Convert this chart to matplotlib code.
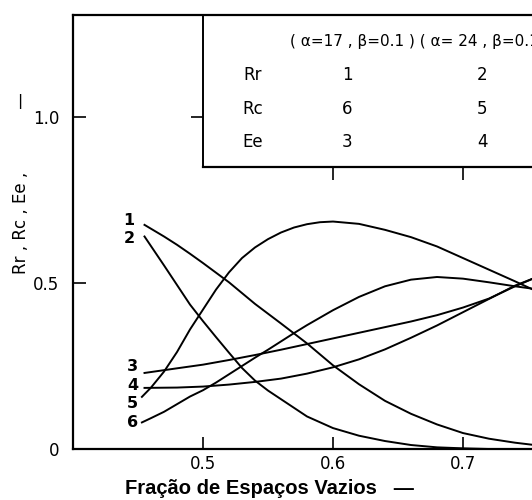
import matplotlib
matplotlib.use("Agg")
import matplotlib.pyplot as plt

plt.rcParams['font.family'] = ['DejaVu Sans']

# ---- data ----
x1 = [0.455, 0.47, 0.48, 0.49, 0.50, 0.52, 0.54, 0.56, 0.58, 0.60, 0.62, 0.64, 0.66, 0.68, 0.70, 0.72, 0.74, 0.755]
rr17 = [0.675, 0.64, 0.615, 0.588, 0.560, 0.502, 0.437, 0.378, 0.318, 0.252, 0.195, 0.145, 0.106, 0.074, 0.048, 0.031, 0.019, 0.012]

x2 = [0.455, 0.47, 0.48, 0.49, 0.50, 0.51, 0.52, 0.53, 0.54, 0.55, 0.56, 0.58, 0.60, 0.62, 0.64, 0.66, 0.68, 0.70, 0.72, 0.755]
rr24 = [0.640, 0.553, 0.494, 0.435, 0.385, 0.337, 0.290, 0.244, 0.206, 0.176, 0.150, 0.098, 0.063, 0.040, 0.024, 0.012, 0.005, 0.002, 0.0, 0.0]

x3 = [0.455, 0.48, 0.50, 0.52, 0.54, 0.56, 0.58, 0.60, 0.62, 0.64, 0.66, 0.68, 0.70, 0.72, 0.74, 0.755]
ee17 = [0.229, 0.243, 0.254, 0.268, 0.283, 0.299, 0.316, 0.333, 0.350, 0.367, 0.384, 0.403, 0.426, 0.453, 0.490, 0.515]

x4 = [0.455, 0.48, 0.50, 0.52, 0.54, 0.56, 0.58, 0.60, 0.62, 0.64, 0.66, 0.68, 0.70, 0.72, 0.74, 0.755]
ee24 = [0.184, 0.185, 0.188, 0.194, 0.202, 0.212, 0.227, 0.246, 0.270, 0.300, 0.335, 0.372, 0.412, 0.452, 0.492, 0.515]

x5 = [0.453, 0.46, 0.47, 0.48, 0.49, 0.50, 0.51, 0.52, 0.53, 0.54, 0.55, 0.56, 0.57, 0.58, 0.59, 0.60, 0.62, 0.64, 0.66, 0.68, 0.70, 0.72, 0.74, 0.755]
rc24 = [0.157, 0.185, 0.233, 0.292, 0.360, 0.420, 0.480, 0.532, 0.575, 0.607, 0.632, 0.652, 0.667, 0.677, 0.683, 0.685, 0.678, 0.660, 0.638, 0.610, 0.575, 0.540, 0.505, 0.478]

x6 = [0.453, 0.46, 0.47, 0.48, 0.49, 0.50, 0.51, 0.52, 0.53, 0.54, 0.55, 0.56, 0.57, 0.58, 0.60, 0.62, 0.64, 0.66, 0.68, 0.70, 0.72, 0.74, 0.755]
rc17 = [0.080, 0.093, 0.112, 0.135, 0.158, 0.177, 0.200, 0.225, 0.250, 0.275, 0.299, 0.324, 0.349, 0.373, 0.418, 0.458, 0.490, 0.510, 0.518, 0.513, 0.502, 0.490, 0.482]

curve_labels = ['1', '2', '3', '4', '5', '6']
label_x = [0.443, 0.443, 0.446, 0.446, 0.446, 0.446]
label_y = [0.687, 0.635, 0.248, 0.190, 0.137, 0.081]

x_ticks = [0.5, 0.6, 0.7]
x_ticklabels = ['0.5', '0.6', '0.7']
y_ticks = [0, 0.5, 1.0]
y_ticklabels = ['0', '0.5', '1.0']

table_header = '( \u03b1=17 , \u03b2=0.1 ) ( \u03b1= 24 , \u03b2=0.1 )'
table_rows = ['Rr', 'Rc', 'Ee']
table_col1 = ['1', '6', '3']
table_col2 = ['2', '5', '4']

# ---- figure ----
fig = plt.figure(figsize=(5.32, 5.0), dpi=100)
ax = fig.add_axes([73/532, 51/500, 468/532, 434/500])
ax.set_xlim(0.4, 0.76)
ax.set_ylim(0, 1.307)

lw = 1.4
for xs, ys in [(x1, rr17), (x2, rr24), (x3, ee17), (x4, ee24), (x5, rc24), (x6, rc17)]:
    ax.plot(xs, ys, color='black', lw=lw)

for t, lx, ly in zip(curve_labels, label_x, label_y):
    ax.text(lx, ly, t, ha='center', va='center', fontsize=11.5, fontweight='bold')

for s in ['left', 'bottom', 'top']:
    ax.spines[s].set_linewidth(1.6)
ax.spines['right'].set_visible(False)

ax.set_xticks(x_ticks)
ax.set_xticklabels(x_ticklabels, fontsize=12)
ax.set_yticks(y_ticks)
ax.set_yticklabels(y_ticklabels, fontsize=12)
ax.tick_params(direction='in', length=9, width=1.2, pad=10)
ax.tick_params(axis='x', pad=4)

ax.set_xlabel('Fra\u00e7\u00e3o de Espa\u00e7os Vazios   \u2014', fontsize=14.5, fontweight='bold',
              family='Liberation Sans')
ax.xaxis.set_label_coords(0.42, -0.07)
ax.set_ylabel('Rr , Rc , Ee ,            \u2014', fontsize=12)
ax.yaxis.set_label_coords(-0.092, 0.612)

# table box as inset axes in data coordinates
tab = ax.inset_axes([0.5, 0.85, 0.26, 0.457], transform=ax.transData)
tab.set_xlim(0.5, 0.76)
tab.set_ylim(0.85, 1.307)
tab.patch.set_alpha(0)
tab.spines['top'].set_visible(False)
tab.spines['right'].set_visible(False)
tab.spines['left'].set_linewidth(1.4)
tab.spines['bottom'].set_linewidth(1.6)
tab.set_xticks([0.6, 0.7])
tab.set_yticks([1.0])
tab.tick_params(direction='out', length=9, width=1.2, labelbottom=False, labelleft=False)

tab.text(0.567, 1.226, table_header, ha='left', va='center', fontsize=11)
row_y = [1.127, 1.024, 0.925]
for r, c1, c2, yy in zip(table_rows, table_col1, table_col2, row_y):
    tab.text(0.538, yy, r, ha='center', va='center', fontsize=12)
    tab.text(0.611, yy, c1, ha='center', va='center', fontsize=12)
    tab.text(0.715, yy, c2, ha='center', va='center', fontsize=12)

fig.savefig('out.png', dpi=100)
